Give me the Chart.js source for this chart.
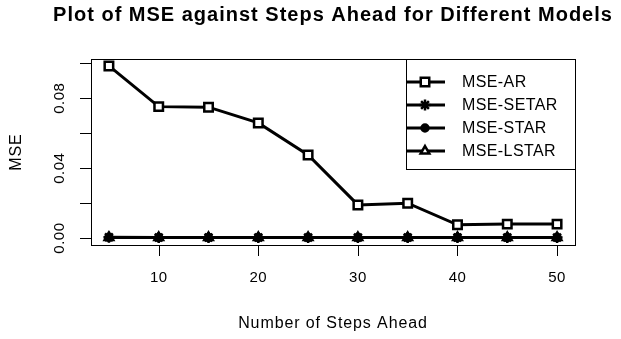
<!DOCTYPE html>
<html>
<head>
<meta charset="utf-8">
<script src="https://cdn.jsdelivr.net/npm/chart.js@4"></script>
<style>
  html, body { margin: 0; padding: 0; background: #fff; }
  #wrap { width: 621px; height: 339px; position: relative; }
</style>
</head>
<body>
<div id="wrap"><canvas id="mseChart"></canvas></div>
<script>
// data
const steps = [5, 10, 15, 20, 25, 30, 35, 40, 45, 50];
const mseAR = [0.0985, 0.0752, 0.0749, 0.0659, 0.0476, 0.0190, 0.0200, 0.0076, 0.0080, 0.0080];
const mseSETAR = [0.0005, 0.0004, 0.0004, 0.0004, 0.0004, 0.0004, 0.0004, 0.0004, 0.0004, 0.0004];
const mseSTAR = [0.0004, 0.0003, 0.0003, 0.0003, 0.0003, 0.0003, 0.0003, 0.0003, 0.0003, 0.0003];
const mseLSTAR = [0.0004, 0.0003, 0.0003, 0.0003, 0.0003, 0.0003, 0.0003, 0.0003, 0.0003, 0.0003];
const xTicks = [10, 20, 30, 40, 50];
const yTicks = [0, 0.02, 0.04, 0.06, 0.08, 0.10];
const yTickLabels = ['0.00', '', '0.04', '', '0.08', ''];
const legendNames = ['MSE-AR', 'MSE-SETAR', 'MSE-STAR', 'MSE-LSTAR'];
const legendStyles = ['rect', 'star', 'circle', 'triangle'];

const font = 'Arial, "Liberation Sans", sans-serif';

function toPoints(vals) {
    return steps.map((s, i) => ({ x: s, y: vals[i] }));
}

function makeSet(label, vals, style, radius, fill) {
    return {
        label,
        data: toPoints(vals),
        borderColor: '#000',
        borderWidth: 3,
        pointStyle: style,
        pointRadius: radius,
        pointBorderWidth: 2.5,
        pointBorderColor: '#000',
        pointBackgroundColor: fill ? '#000' : '#fff',
        tension: 0
    };
}

// R-style box, axes, titles and legend
const rFrame = {
    id: 'rFrame',
    afterDraw(chart) {
        const ctx = chart.ctx;
        const a = chart.chartArea;
        const xs = chart.scales.x, ys = chart.scales.y;
        ctx.save();
        ctx.strokeStyle = '#000';
        ctx.fillStyle = '#000';
        ctx.lineWidth = 1;
        ctx.strokeRect(a.left + 0.5, a.top + 0.5, a.right - a.left, a.bottom - a.top);

        // x axis
        ctx.font = '15px ' + font;
        ctx.letterSpacing = '0.5px';
        ctx.textAlign = 'center';
        ctx.textBaseline = 'middle';
        ctx.beginPath();
        xTicks.forEach(t => {
            const px = Math.round(xs.getPixelForValue(t)) + 0.5;
            ctx.moveTo(px, a.bottom);
            ctx.lineTo(px, a.bottom + 11);
        });
        ctx.stroke();
        xTicks.forEach(t => ctx.fillText(String(t), xs.getPixelForValue(t), 278));

        // y axis
        ctx.beginPath();
        yTicks.forEach(t => {
            const py = Math.round(ys.getPixelForValue(t)) + 0.5;
            ctx.moveTo(a.left, py);
            ctx.lineTo(a.left - 11, py);
        });
        ctx.stroke();
        yTicks.forEach((t, i) => {
            if (!yTickLabels[i]) return;
            ctx.save();
            ctx.translate(60, ys.getPixelForValue(t));
            ctx.rotate(-Math.PI / 2);
            ctx.fillText(yTickLabels[i], 0, 0);
            ctx.restore();
        });

        // titles
        ctx.font = 'bold 20px ' + font;
        ctx.letterSpacing = '1px';
        ctx.fillText('Plot of MSE against Steps Ahead for Different Models', (a.left + a.right) / 2, 15);
        ctx.font = '16px ' + font;
        ctx.letterSpacing = '0.9px';
        ctx.fillText('Number of Steps Ahead', (a.left + a.right) / 2, 324);
        ctx.save();
        ctx.translate(17, (a.top + a.bottom) / 2);
        ctx.rotate(-Math.PI / 2);
        ctx.fillText('MSE', 0, 0);
        ctx.restore();

        // legend
        const lx = 406, ly = a.top, lw = a.right - lx, lh = 110;
        ctx.fillStyle = '#fff';
        ctx.fillRect(lx, ly, lw, lh);
        ctx.strokeRect(lx + 0.5, ly + 0.5, lw, lh);
        ctx.font = '16px ' + font;
        ctx.letterSpacing = '0.4px';
        ctx.textAlign = 'left';
        legendNames.forEach((name, i) => {
            const ry = 82 + i * 23;
            ctx.strokeStyle = '#000';
            ctx.lineWidth = 3;
            ctx.beginPath();
            ctx.moveTo(406, ry);
            ctx.lineTo(445, ry);
            ctx.stroke();
            const ds = chart.data.datasets[i];
            ctx.lineWidth = 2.5;
            ctx.fillStyle = ds.pointBackgroundColor;
            Chart.helpers.drawPoint(ctx, { pointStyle: legendStyles[i], radius: ds.pointRadius, borderWidth: 2.5 }, 425, ry);
            ctx.fillStyle = '#000';
            ctx.fillText(name, 462, ry + 1);
        });
        ctx.restore();
    }
};

new Chart(document.getElementById('mseChart'), {
    type: 'line',
    data: {
        datasets: [
            makeSet('MSE-AR', mseAR, 'rect', 6, false),
            makeSet('MSE-SETAR', mseSETAR, 'star', 5.5, false),
            makeSet('MSE-STAR', mseSTAR, 'circle', 3.5, true),
            makeSet('MSE-LSTAR', mseLSTAR, 'triangle', 5, false)
        ]
    },
    options: {
        responsive: true,
        maintainAspectRatio: false,
        animation: false,
        layout: { padding: { left: 91, right: 46, top: 59, bottom: 94 } },
        scales: {
            x: { type: 'linear', min: 3.2, max: 51.8, display: false },
            y: { min: -0.00394, max: 0.10244, display: false }
        },
        plugins: {
            legend: { display: false },
            tooltip: { enabled: false }
        }
    },
    plugins: [rFrame]
});
</script>
</body>
</html>
